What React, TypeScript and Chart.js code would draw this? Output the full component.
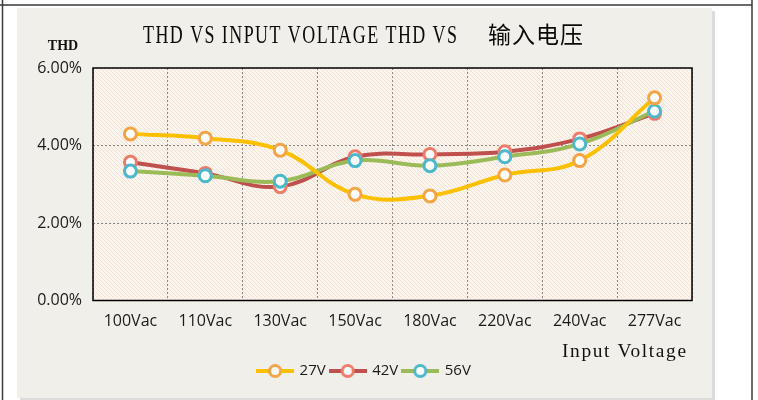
import React, { useEffect, useRef } from "react";
import { Chart, registerables } from "chart.js";

Chart.register(...registerables);

const categories = ["100Vac", "110Vac", "130Vac", "150Vac", "180Vac", "220Vac", "240Vac", "277Vac"];
const seriesNames = ["27V", "42V", "56V"];
const values27V = [4.3, 4.19, 3.88, 2.74, 2.7, 3.24, 3.61, 5.23];
const values42V = [3.57, 3.28, 2.94, 3.71, 3.77, 3.84, 4.17, 4.83];
const values56V = [3.34, 3.22, 3.08, 3.61, 3.48, 3.71, 4.04, 4.89];
const yTicks = [0, 2, 4, 6];
const titleLatin = "THD VS INPUT VOLTAGE THD VS";
const titleCJK = "输入电压";
const yAxisLabel = "THD";
const xAxisLabel = "Input Voltage";

const lineColors = ["#ffc000", "#c0504d", "#9bbb59"];
const markerColors = ["#f5a547", "#ef7c6a", "#4bb8cc"];

function makeLegendIcon(line: string, marker: string): HTMLCanvasElement {
  const c = document.createElement("canvas");
  c.width = 38;
  c.height = 16;
  const g = c.getContext("2d")!;
  g.strokeStyle = line;
  g.lineWidth = 4;
  g.beginPath();
  g.moveTo(0, 8);
  g.lineTo(38, 8);
  g.stroke();
  g.beginPath();
  g.arc(19, 8, 5.5, 0, Math.PI * 2);
  g.fillStyle = "#ffffff";
  g.fill();
  g.lineWidth = 3;
  g.strokeStyle = marker;
  g.stroke();
  return c;
}

function makePattern(ctx: CanvasRenderingContext2D): CanvasPattern | string {
  const p = document.createElement("canvas");
  p.width = 4;
  p.height = 4;
  const g = p.getContext("2d")!;
  g.fillStyle = "#fdf6f0";
  g.fillRect(0, 0, 4, 4);
  g.strokeStyle = "#f6e0cf";
  g.lineWidth = 1;
  g.beginPath();
  g.moveTo(-1, -1);
  g.lineTo(5, 5);
  g.moveTo(-1, 3);
  g.lineTo(1, 5);
  g.moveTo(3, -1);
  g.lineTo(5, 1);
  g.stroke();
  return ctx.createPattern(p, "repeat") || "#fdf2e9";
}

// draw text condensed/stretched to fill a given width
function fitText(ctx: any, text: string, x: number, y: number, width: number, font: string, spacing: number) {
  ctx.save();
  ctx.font = font;
  try {
    ctx.letterSpacing = spacing + "px";
  } catch (e) {}
  ctx.textAlign = "left";
  ctx.textBaseline = "alphabetic";
  const w = ctx.measureText(text).width - spacing;
  const sx = width / w;
  ctx.translate(x, y);
  ctx.scale(sx, 1);
  ctx.fillText(text, 0, 0);
  ctx.restore();
}

const framePlugin = {
  id: "frame",
  beforeDraw(chart: any) {
    const { ctx, chartArea } = chart;
    ctx.save();
    ctx.fillStyle = "#ffffff";
    ctx.fillRect(0, 0, 758, 400);
    ctx.fillStyle = "#dcdcdc";
    ctx.fillRect(20, 11, 695, 389);
    ctx.fillStyle = "#f1efe9";
    ctx.fillRect(17, 8, 695, 390);
    ctx.strokeStyle = "#3a3a3a";
    ctx.lineWidth = 1.5;
    ctx.beginPath();
    ctx.moveTo(0, 5);
    ctx.lineTo(752, 5);
    ctx.moveTo(2.5, 0);
    ctx.lineTo(2.5, 400);
    ctx.moveTo(752, 0);
    ctx.lineTo(752, 400);
    ctx.stroke();
    ctx.fillStyle = makePattern(ctx);
    ctx.fillRect(chartArea.left, chartArea.top, chartArea.right - chartArea.left, chartArea.bottom - chartArea.top);
    ctx.restore();
  },
  beforeDatasetsDraw(chart: any) {
    const { ctx, chartArea } = chart;
    ctx.save();
    ctx.strokeStyle = "#000000";
    ctx.lineWidth = 1.5;
    ctx.strokeRect(chartArea.left, chartArea.top, chartArea.right - chartArea.left, chartArea.bottom - chartArea.top);
    ctx.restore();
  },
  afterDraw(chart: any) {
    const { ctx } = chart;
    ctx.save();
    ctx.fillStyle = "#0a0a0a";
    // title
    fitText(ctx, titleLatin, 143, 43, 314, "25px 'Liberation Serif'", 2);
    ctx.font = "23px 'Noto Sans CJK SC'";
    ctx.textAlign = "left";
    ctx.textBaseline = "alphabetic";
    try {
      (ctx as any).letterSpacing = "1px";
    } catch (e) {}
    ctx.fillText(titleCJK, 488, 43);
    try {
      (ctx as any).letterSpacing = "0px";
    } catch (e) {}
    // axis labels
    ctx.fillStyle = "#111111";
    ctx.textAlign = "center";
    ctx.font = "bold 14px 'Liberation Serif'";
    ctx.fillText(yAxisLabel, 63, 50);
    fitText(ctx, xAxisLabel, 562, 357, 124, "18px 'Liberation Serif'", 1.5);
    ctx.restore();
  },
};

export default function App() {
  const ref = useRef<HTMLCanvasElement | null>(null);
  useEffect(() => {
    document.body.style.margin = "0";
    const canvas = ref.current!;
    const icons = lineColors.map((c, i) => makeLegendIcon(c, markerColors[i]));
    const allValues = [values27V, values42V, values56V];
    const orders = [0, 2, 1];
    const chart = new Chart(canvas, {
      type: "line",
      data: {
        labels: categories,
        datasets: seriesNames.map((name, i) => ({
          label: name,
          data: allValues[i],
          borderColor: lineColors[i],
          backgroundColor: lineColors[i],
          borderWidth: 4,
          tension: 0.4,
          pointRadius: 6,
          pointHoverRadius: 6,
          pointBorderWidth: 3,
          pointBorderColor: markerColors[i],
          pointBackgroundColor: "#ffffff",
          order: orders[i],
          yAxisID: "y",
        })),
      },
      plugins: [framePlugin],
      options: {
        animation: false,
        responsive: false,
        maintainAspectRatio: false,
        layout: { padding: { left: 17, right: 46, top: 68, bottom: 11.5 } },
        plugins: {
          title: { display: false },
          legend: {
            display: true,
            position: "bottom",
            labels: {
              usePointStyle: true,
              pointStyleWidth: 34,
              boxHeight: 15,
              padding: 5,
              color: "#1a1a1a",
              font: { family: "'Open Sans'", size: 15 },
              generateLabels: (ch: any) =>
                ch.data.datasets.map((ds: any, i: number) => ({
                  text: ds.label,
                  pointStyle: icons[i],
                  fillStyle: ds.borderColor,
                  strokeStyle: ds.borderColor,
                  lineWidth: 0,
                  hidden: false,
                  datasetIndex: i,
                  fontColor: "#1a1a1a",
                })),
            },
          },
          tooltip: { enabled: false },
        },
        scales: {
          x: {
            offset: true,
            grid: {
              offset: true,
              color: "#8a8a8a",
              lineWidth: 1,
              drawTicks: false,
            },
            border: { display: false, dash: [2, 2] },
            ticks: {
              color: "#1a1a1a",
              font: { family: "'Open Sans'", size: 16 },
              padding: 11.5,
              maxRotation: 0,
              autoSkip: false,
            },
            afterFit: (s: any) => {
              s.height = 58;
            },
          },
          y: {
            min: 0,
            max: 6,
            afterBuildTicks: (s: any) => {
              s.ticks = yTicks.map((v) => ({ value: v }));
            },
            grid: {
              color: (c: any) => (c.tick && (c.tick.value === 0 || c.tick.value === 6) ? "rgba(0,0,0,0)" : "#8a8a8a"),
              lineWidth: 1,
              drawTicks: false,
            },
            border: { display: false, dash: [2, 2] },
            ticks: {
              color: "#1a1a1a",
              font: { family: "'Open Sans'", size: 16 },
              padding: 11,
              callback: (v: any) => Number(v).toFixed(2) + "%",
            },
            afterFit: (s: any) => {
              s.width = 76;
            },
          },
          yRight: {
            position: "right",
            display: true,
            grid: { display: false, drawTicks: false },
            border: { display: false },
            ticks: { display: false },
            afterFit: (s: any) => {
              s.width = 20;
            },
          },
        },
      } as any,
    });
    return () => chart.destroy();
  }, []);
  return (
    <div style={{ position: "absolute", left: 0, top: 0, width: 758, height: 400 }}>
      <canvas ref={ref} width={758} height={400} style={{ display: "block", width: 758, height: 400 }} />
    </div>
  );
}
